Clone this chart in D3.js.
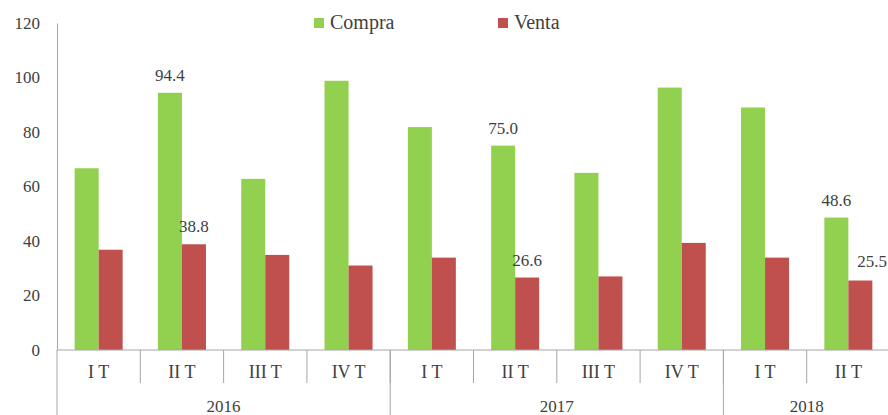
<!DOCTYPE html>
<html>
<head>
<meta charset="utf-8">
<script src="https://cdn.jsdelivr.net/npm/d3@7"></script>
<style>
  body { margin: 0; background: #fff; }
  svg text { font-family: "Liberation Serif", "Times New Roman", serif; fill: #404040; }
</style>
</head>
<body>
<div id="chart"></div>
<script>
// Data
const quarters = ["I T", "II T", "III T", "IV T", "I T", "II T", "III T", "IV T", "I T", "II T"];
const years = ["2016", "2017", "2018"];
const yearSpans = [4, 4, 2];
const compra = [66.7, 94.4, 62.8, 98.8, 81.8, 75.0, 65.0, 96.3, 89.0, 48.6];
const venta = [36.8, 38.8, 34.9, 31.0, 33.9, 26.6, 27.0, 39.3, 33.9, 25.5];
const series = ["Compra", "Venta"];
const yTicks = [0, 20, 40, 60, 80, 100, 120];
// which bars carry a value label: [quarter index, series]
const labelled = [[1, "Compra"], [1, "Venta"], [5, "Compra"], [5, "Venta"], [9, "Compra"], [9, "Venta"]];

const width = 888;
const height = 415;
const margin = { top: 23, right: -2, bottom: 65, left: 57 };
const colors = { Compra: "#92D050", Venta: "#C0504D" };
const axisColor = "#a6a6a6";
const font = "Liberation Serif, Times New Roman, serif";

const svg = d3.select("#chart")
    .append("svg")
    .attr("width", width)
    .attr("height", height)
    .attr("font-family", font);

const x = d3.scaleBand()
    .domain(quarters.map((_, i) => i))
    .range([margin.left, width - margin.right])
    .paddingInner(0)
    .paddingOuter(0);

const xSub = d3.scaleBand()
    .domain(series)
    .range([0, x.bandwidth()])
    .paddingInner(0)
    .paddingOuter(0.735);

const y = d3.scaleLinear()
    .domain([0, 120])
    .range([height - margin.bottom, margin.top]);

const valuesOf = { Compra: compra, Venta: venta };

// Bars
series.forEach(s => {
    svg.append("g")
        .selectAll("rect")
        .data(valuesOf[s])
        .join("rect")
        .attr("x", (_, i) => x(i) + xSub(s))
        .attr("y", d => y(d))
        .attr("width", xSub.bandwidth())
        .attr("height", d => y(0) - y(d))
        .attr("fill", colors[s]);
});

// Y axis
const yAxis = svg.append("g")
    .attr("transform", `translate(${margin.left},0)`)
    .call(d3.axisLeft(y).tickValues(yTicks).tickSize(0).tickPadding(17));
yAxis.attr("font-family", font);
yAxis.select(".domain").attr("stroke", axisColor);
yAxis.selectAll("text")
    .attr("font-size", 17)
    .attr("fill", "#404040");

// X axis line
const y0 = y(0);
svg.append("line")
    .attr("x1", margin.left).attr("x2", width)
    .attr("y1", y0).attr("y2", y0)
    .attr("stroke", axisColor);

// Quarter separators
svg.append("g")
    .selectAll("line")
    .data(d3.range(1, quarters.length + 1))
    .join("line")
    .attr("x1", i => i < quarters.length ? x(i) : width - margin.right)
    .attr("x2", i => i < quarters.length ? x(i) : width - margin.right)
    .attr("y1", y0)
    .attr("y2", y0 + 33)
    .attr("stroke", axisColor);

// Quarter labels
svg.append("g")
    .selectAll("text")
    .data(quarters)
    .join("text")
    .attr("x", (_, i) => x(i) + x.bandwidth() / 2)
    .attr("y", y0 + 28)
    .attr("text-anchor", "middle")
    .attr("font-size", 18)
    .text(d => d);

// Year groups
let start = 0;
const yearGroups = years.map((yr, k) => {
    const g = { year: yr, from: start, to: start + yearSpans[k] };
    start += yearSpans[k];
    return g;
});

svg.append("g")
    .selectAll("line")
    .data(yearGroups)
    .join("line")
    .attr("x1", g => x(g.from))
    .attr("x2", g => x(g.from))
    .attr("y1", y0)
    .attr("y2", height)
    .attr("stroke", axisColor);

svg.append("g")
    .selectAll("text")
    .data(yearGroups)
    .join("text")
    .attr("x", g => (x(g.from) + x(g.to - 1) + x.bandwidth()) / 2)
    .attr("y", y0 + 62)
    .attr("text-anchor", "middle")
    .attr("font-size", 17)
    .text(g => g.year);

// Value labels (the last one is pushed right, against the edge)
const isLast = (i, s) => i === quarters.length - 1 && s === "Venta";
svg.append("g")
    .selectAll("text")
    .data(labelled)
    .join("text")
    .attr("x", ([i, s]) => isLast(i, s) ? width - 1 : x(i) + xSub(s) + xSub.bandwidth() / 2)
    .attr("y", ([i, s]) => y(valuesOf[s][i]) - (isLast(i, s) ? 14 : 12))
    .attr("text-anchor", ([i, s]) => isLast(i, s) ? "end" : "middle")
    .attr("font-size", 17)
    .text(([i, s]) => valuesOf[s][i].toFixed(1));

// Legend
const legend = svg.append("g")
    .selectAll("g")
    .data(series)
    .join("g")
    .attr("transform", (_, k) => `translate(${[314, 498][k]},18)`);
legend.append("rect")
    .attr("width", 10)
    .attr("height", 10)
    .attr("fill", s => colors[s]);
legend.append("text")
    .attr("x", 16)
    .attr("y", 11)
    .attr("font-size", 20)
    .text(s => s);
</script>
</body>
</html>
